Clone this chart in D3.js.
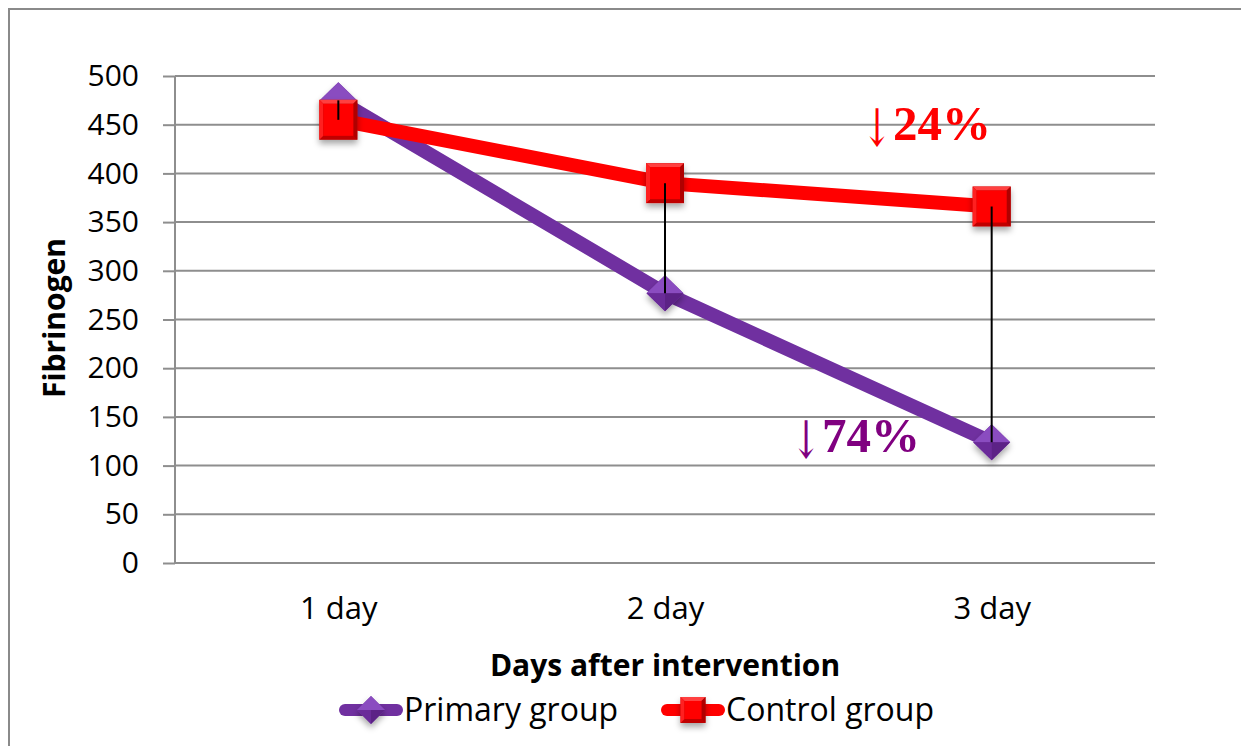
<!DOCTYPE html>
<html lang="en">
<head>
<meta charset="UTF-8">
<title>Fibrinogen</title>
<script src="https://cdn.jsdelivr.net/npm/d3@7"></script>
<style>
  body { margin: 0; background: #fff; }
  svg { display: block; }
  .tick text { font-family: "Open Sans", sans-serif; }
</style>
</head>
<body>
<svg width="1241" height="746"></svg>
<script>

// data
var days = ["1 day", "2 day", "3 day"];
var primaryGroup = [475, 277, 124];
var controlGroup = [455, 390, 366];
var yTicks = [0, 50, 100, 150, 200, 250, 300, 350, 400, 450, 500];

var svg = d3.select("svg"),
    plotLeft = 175, plotRight = 1155, plotTop = 76, plotBottom = 563;

var x = d3.scalePoint().domain(days).range([plotLeft, plotRight]).padding(0.5),
    y = d3.scaleLinear().domain([0, 500]).range([plotBottom, plotTop]);

var defs = svg.append("defs");
var shadow = defs.append("filter").attr("id", "shadow")
    .attr("x", "-50%").attr("y", "-50%").attr("width", "200%").attr("height", "200%");
shadow.append("feDropShadow").attr("dx", 0).attr("dy", 4).attr("stdDeviation", 3)
    .attr("flood-color", "#000").attr("flood-opacity", 0.35);

// outer border
svg.append("path")
    .attr("d", "M9,746 V9 H1241")
    .attr("fill", "none").attr("stroke", "#8a8a8a").attr("stroke-width", 2);

// gridlines
svg.append("g").selectAll("line").data(yTicks).join("line")
    .attr("x1", plotLeft).attr("x2", plotRight)
    .attr("y1", function(d) { return y(d); }).attr("y2", function(d) { return y(d); })
    .attr("stroke", "#8e8e8e").attr("stroke-width", 2);

// y axis
var gy = svg.append("g").attr("transform", "translate(" + plotLeft + ",0)")
    .call(d3.axisLeft(y).tickValues(yTicks).tickSize(12).tickPadding(24));
gy.select(".domain").attr("stroke", "#8e8e8e").attr("stroke-width", 2).attr("d", "M0," + plotTop + "V" + plotBottom);
gy.selectAll(".tick line").attr("stroke", "#8e8e8e").attr("stroke-width", 2);
gy.selectAll(".tick text").attr("font-size", 30).attr("fill", "#000");

// x axis
var gx = svg.append("g").attr("transform", "translate(0," + plotBottom + ")")
    .call(d3.axisBottom(x).tickSize(0).tickPadding(34));
gx.select(".domain").remove();
gx.selectAll(".tick text").attr("font-size", 31).attr("fill", "#000");

// axis titles
svg.append("text")
    .attr("x", 665).attr("y", 676)
    .attr("text-anchor", "middle")
    .attr("font-family", "Open Sans, sans-serif").attr("font-weight", "bold").attr("font-size", 30)
    .text("Days after intervention");
svg.append("text")
    .attr("transform", "translate(65,318) rotate(-90)")
    .attr("text-anchor", "middle")
    .attr("font-family", "Open Sans, sans-serif").attr("font-weight", "bold").attr("font-size", 30)
    .text("Fibrinogen");

// series lines
var line = d3.line()
    .x(function(d, i) { return x(days[i]); })
    .y(function(d) { return y(d); });

svg.append("path").datum(primaryGroup)
    .attr("d", line).attr("fill", "none")
    .attr("stroke", "#7030A0").attr("stroke-width", 14);
svg.append("path").datum(controlGroup)
    .attr("d", line).attr("fill", "none")
    .attr("stroke", "#FF0000").attr("stroke-width", 14);

// markers
function diamond(g, cx, cy, w, h) {
    var hw = w / 2, hh = h / 2;
    var grp = g.append("g").attr("transform", "translate(" + cx + "," + cy + ")");
    grp.append("path").attr("d", "M0," + (-hh) + "L" + hw + ",0L0," + hh + "L" + (-hw) + ",0Z")
        .attr("fill", "#7030A0").attr("filter", "url(#shadow)");
    grp.append("path").attr("d", "M0," + (-hh) + "L" + hw + ",0L0,0L" + (-hw) + ",0Z").attr("fill", "#8a4cc0");
    grp.append("path").attr("d", "M" + (-hw) + ",0L0,0L0," + hh + "Z").attr("fill", "#6a2b99");
    grp.append("path").attr("d", "M" + hw + ",0L0,0L0," + hh + "Z").attr("fill", "#5c2286");
}
function square(g, cx, cy, w, h) {
    var hw = w / 2, hh = h / 2, b = 4;
    var grp = g.append("g").attr("transform", "translate(" + cx + "," + cy + ")");
    grp.append("rect").attr("x", -hw).attr("y", -hh).attr("width", w).attr("height", h)
        .attr("fill", "#c00000").attr("filter", "url(#shadow)");
    grp.append("path").attr("d", "M" + (-hw) + "," + (-hh) + "H" + hw + "L" + (hw - b) + "," + (-hh + b) + "H" + (-hw + b) + "Z").attr("fill", "#ff4040");
    grp.append("path").attr("d", "M" + (-hw) + "," + (-hh) + "V" + hh + "L" + (-hw + b) + "," + (hh - b) + "V" + (-hh + b) + "Z").attr("fill", "#ff2020");
    grp.append("path").attr("d", "M" + hw + "," + (-hh) + "V" + hh + "L" + (hw - b) + "," + (hh - b) + "V" + (-hh + b) + "Z").attr("fill", "#b00000");
    grp.append("rect").attr("x", -hw + b).attr("y", -hh + b).attr("width", w - 2 * b).attr("height", h - 2 * b)
        .attr("fill", "#ff0000");
}

var marks = svg.append("g");
primaryGroup.forEach(function(v, i) { diamond(marks, x(days[i]), y(v), 37, 36); });
controlGroup.forEach(function(v, i) { square(marks, x(days[i]), y(v), 38, 40); });

// high-low lines
svg.append("g").selectAll("line").data(days).join("line")
    .attr("x1", function(d) { return x(d); }).attr("x2", function(d) { return x(d); })
    .attr("y1", function(d, i) { return y(primaryGroup[i]); })
    .attr("y2", function(d, i) { return y(controlGroup[i]); })
    .attr("stroke", "#000").attr("stroke-width", 2);

// percent labels
function pct(px, py, color, label) {
    svg.append("text")
        .attr("transform", "translate(" + px + "," + (py + 6) + ") scale(1,1.45)")
        .attr("font-family", "DejaVu Serif, serif").attr("font-size", 36).attr("fill", color)
        .text("\u2193");
    svg.append("text").attr("x", px + 31).attr("y", py)
        .attr("font-family", "Liberation Serif, serif").attr("font-weight", "bold")
        .attr("font-size", 49).attr("fill", color)
        .text(label);
}
pct(862, 140, "#FF0000", "24%");
pct(791, 452, "#800080", "74%");

// legend
var lg = svg.append("g");
lg.append("line").attr("x1", 345).attr("x2", 397).attr("y1", 710).attr("y2", 710)
    .attr("stroke", "#7030A0").attr("stroke-width", 12).attr("stroke-linecap", "round");
diamond(lg, 371, 710, 28, 28);
lg.append("text").attr("x", 404).attr("y", 710).attr("dy", "0.35em")
    .attr("font-family", "Open Sans, sans-serif").attr("font-size", 32).text("Primary group");
lg.append("line").attr("x1", 667).attr("x2", 719).attr("y1", 710).attr("y2", 710)
    .attr("stroke", "#FF0000").attr("stroke-width", 12).attr("stroke-linecap", "round");
square(lg, 693, 710, 25, 26);
lg.append("text").attr("x", 726).attr("y", 710).attr("dy", "0.35em")
    .attr("font-family", "Open Sans, sans-serif").attr("font-size", 32).text("Control group");

</script>
</body>
</html>
